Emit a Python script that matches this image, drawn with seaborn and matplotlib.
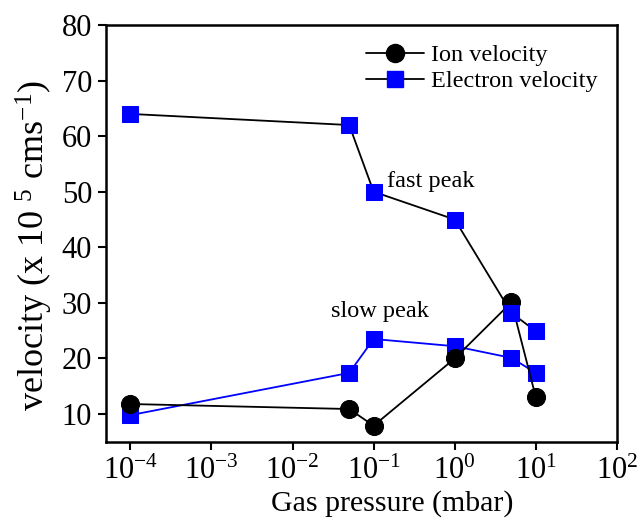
import numpy as np
import pandas as pd
import matplotlib
matplotlib.use("Agg")
import matplotlib.pyplot as plt
import seaborn as sns
from matplotlib.ticker import NullLocator
from matplotlib.lines import Line2D

# Data
pressure = [1e-4, 0.05, 0.1, 1.0, 5.0, 10.0]
ion_velocity = [11.8, 10.9, 7.9, 20.0, 30.1, 13.0]
electron_fast = [64.0, 62.0, 50.0, 45.0, 28.2, 24.9]
electron_slow = [9.8, 17.4, 23.5, 22.2, 20.1, 17.4]
x_ticks = [1e-4, 1e-3, 1e-2, 1e-1, 1e0, 1e1, 1e2]
y_ticks = [10, 20, 30, 40, 50, 60, 70, 80]

sns.set_theme(style="ticks")
plt.rcParams['font.family'] = ['Liberation Serif', 'DejaVu Serif']
plt.rcParams['mathtext.fontset'] = 'custom'
plt.rcParams['mathtext.rm'] = 'Liberation Serif'
plt.rcParams['mathtext.it'] = 'Liberation Serif:italic'
plt.rcParams['mathtext.bf'] = 'Liberation Serif:bold'
plt.rcParams['text.color'] = 'black'
plt.rcParams['axes.labelcolor'] = 'black'

df = pd.DataFrame({"pressure": pressure, "ion": ion_velocity,
                   "fast": electron_fast, "slow": electron_slow})

fig = plt.figure(figsize=(6.38, 5.21), dpi=100)
ax = fig.add_axes([0.166, 0.152, 0.801, 0.800])

sns.lineplot(data=df, x="pressure", y="slow", ax=ax, color="#0000ff", lw=1.3,
             marker="s", markersize=12, markerfacecolor="#0000ff",
             markeredgecolor="#0000ff", legend=False)
sns.lineplot(data=df, x="pressure", y="ion", ax=ax, color="black", lw=1.3,
             marker="o", markersize=13, markerfacecolor="black",
             markeredgecolor="black", legend=False)
sns.lineplot(data=df, x="pressure", y="fast", ax=ax, color="black", lw=1.3,
             marker="s", markersize=12, markerfacecolor="#0000ff",
             markeredgecolor="#0000ff", legend=False)

ax.set_xscale("log")
ax.set_xlim(5e-5, 1e2)
ax.set_ylim(5, 80)
ax.set_xticks(x_ticks)
ax.xaxis.set_minor_locator(NullLocator())
ax.set_yticks(y_ticks)
ax.tick_params(axis="both", which="major", direction="out", length=6, width=1.5,
               labelsize=22, colors="black", pad=4)
ax.tick_params(axis="x", pad=5)
for s in ax.spines.values():
    s.set_linewidth(1.8)
    s.set_color("black")

ax.set_xlabel("Gas pressure (mbar)", fontsize=21.5, color="black")
ax.set_ylabel("velocity (x 10 $^{5}$ cms$^{-1}$)", fontsize=26, color="black")
ax.xaxis.set_label_coords(0.56, -0.116)
ax.yaxis.set_label_coords(-0.10, 0.472)

ax.text(0.145, 49.9, "fast peak", fontsize=17.5, ha="left", va="bottom", color="black")
ax.text(0.0295, 26.5, "slow peak", fontsize=17.5, ha="left", va="bottom", color="black")

handles = [
    Line2D([], [], color="black", lw=1.3, marker="o", markersize=13,
           markerfacecolor="black", markeredgecolor="black"),
    Line2D([], [], color="black", lw=1.3, marker="s", markersize=12,
           markerfacecolor="#0000ff", markeredgecolor="#0000ff"),
]
ax.legend(handles, ["Ion velocity", "Electron velocity"], loc="upper right",
          frameon=False, fontsize=17.5, handlelength=2.35, handletextpad=0.3,
          labelspacing=0.15, borderaxespad=0.4, labelcolor="black")

fig.savefig("out.png", dpi=100)
